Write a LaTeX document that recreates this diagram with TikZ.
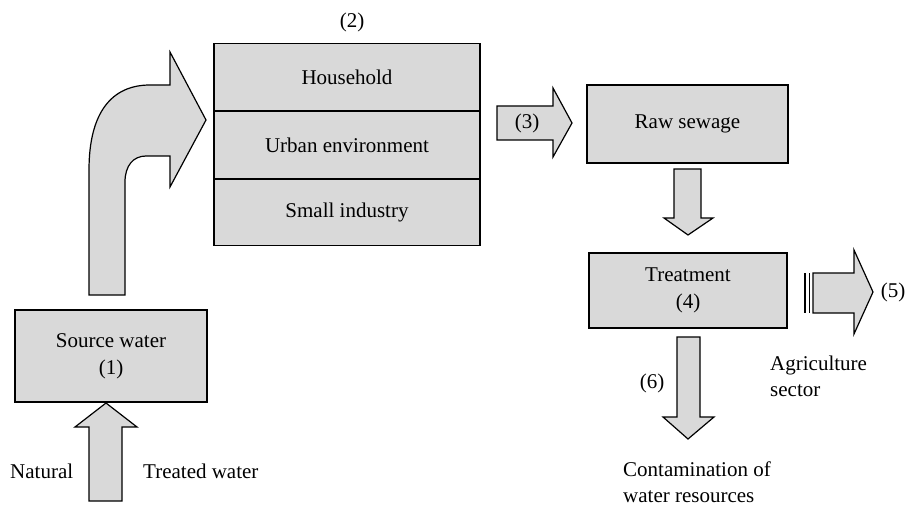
\documentclass[tikz,border=0pt]{standalone}
\usepackage{fontspec}
\setmainfont{Liberation Serif}
\usetikzlibrary{positioning}
\definecolor{boxgray}{RGB}{217,217,217}
\tikzset{box/.style={draw, fill=boxgray, line width=1.2pt, align=center,
   font=\fontsize{21}{27}\selectfont, inner sep=0pt},
 blockarrow/.style={draw, fill=boxgray, line width=1.2pt, line join=miter},
 txt/.style={font=\fontsize{21}{26}\selectfont, inner sep=0pt},
 }

\begin{document}
\begin{tikzpicture}[x=1pt, y=-1pt]
        \useasboundingbox (0,0) rectangle (913,505);
        \node[box, minimum width=192pt, minimum height=92pt] (src) at (111,356) {Source water\\(1)};
        \node[box, minimum width=266pt, minimum height=67pt] (house) at (347,77) {Household};
        \node[box, minimum width=266pt, minimum height=67pt, below=0pt of house] (urban) {Urban environment};
        \node[box, minimum width=266pt, minimum height=66pt, below=0pt of urban] (industry) {Small industry};
        \node[txt] (lbl2) at (352,22) {(2)};
        \node[box, minimum width=201pt, minimum height=78pt] (raw) at (687.5,124) {Raw sewage};
        \node[box, minimum width=198pt, minimum height=75pt] (treat) at (688,290.5) {Treatment\\(4)};
        \draw[blockarrow] (89,501) -- (89,427) -- (75,427) -- (106,403) -- (137,427) -- (122,427) -- (122,501) -- cycle;
        \draw[blockarrow] (89,295) -- (89,170) .. controls (89,112) and (112,85) .. (150,85) -- (170,85)
            -- (170,52) -- (206,120) -- (170,187) -- (170,156) -- (146,156)
            .. controls (133,156) and (125,166) .. (125,182) -- (125,295) -- cycle;
        \draw[blockarrow] (497,106) -- (553,106) -- (553,88) -- (572,123) -- (553,157) -- (553,140) -- (497,140) -- cycle;
        \draw[blockarrow] (674,169) -- (701,169) -- (701,218) -- (713,218) -- (688,235) -- (664,218) -- (674,218) -- cycle;
        \draw[blockarrow] (677,337) -- (700,337) -- (700,417) -- (714,417) -- (688,439) -- (663,417) -- (677,417) -- cycle;
        \draw[blockarrow] (813,273) -- (854,273) -- (854,250) -- (873,292) -- (854,334) -- (854,313) -- (813,313) -- cycle;
        \foreach \x in {805, 809.5} {
            \draw[line width=1.2pt] (\x,273) -- (\x,313);
        }
        \node[txt] (lbl3) at (527,123) {(3)};
        \node[txt] (lbl5) at (893,292) {(5)};
        \node[txt] (lbl6) at (652,383) {(6)};
        \node[txt, anchor=west] (natural) at (10,471) {Natural};
        \node[txt, anchor=west] (treated) at (143,471) {Treated water};
        \node[txt, anchor=west, align=left] (agri) at (770,376) {Agriculture\\sector};
        \node[txt, anchor=west, align=left] (contam) at (623,482) {Contamination of\\water resources};
    \end{tikzpicture}
\end{document}
